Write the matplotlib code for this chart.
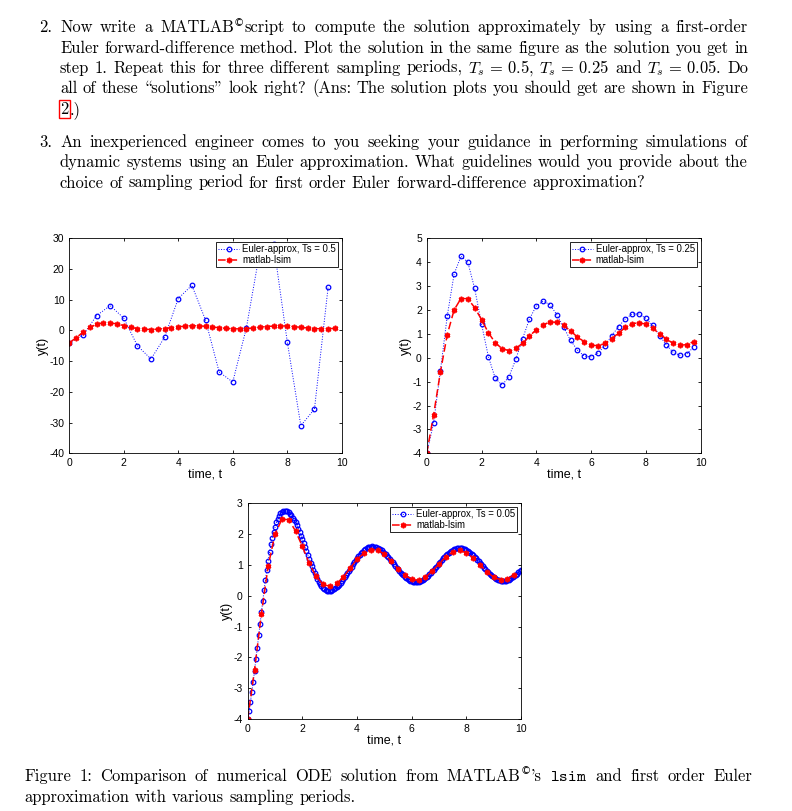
import numpy as np
import matplotlib.pyplot as plt

W, H = 792, 811

# lsim reference solution, sampled every 0.25 s
lsim_dt = 0.25
y_lsim = [-4.0, -2.4, -0.6, 0.97, 2.0, 2.48, 2.47, 2.1, 1.6, 1.05,
          0.63, 0.38, 0.3, 0.4, 0.6, 0.9, 1.18, 1.38, 1.5, 1.48,
          1.35, 1.12, 0.87, 0.67, 0.53, 0.5, 0.6, 0.8, 1.03, 1.27,
          1.42, 1.47, 1.4, 1.23, 1.0, 0.78, 0.6, 0.52, 0.55, 0.68]

# Euler forward-difference, Ts = 0.5
ts_a = 0.5
y_euler_a = [-4.0, -1.6, 4.8, 8.1, 4.0, -5.0, -9.3, -2.2, 10.4, 14.7,
             3.4, -13.5, -16.8, 0.8, 26.0, 28.0, -3.6, -31.0, -25.6, 14.0]

# Euler forward-difference, Ts = 0.25
ts_b = 0.25
y_euler_b = [-4.0, -2.75, -0.55, 1.75, 3.5, 4.25, 4.0, 2.9, 1.42, 0.05,
             -0.85, -1.15, -0.8, -0.07, 0.8, 1.62, 2.17, 2.37, 2.22, 1.8,
             1.27, 0.73, 0.32, 0.07, 0.04, 0.2, 0.5, 0.92, 1.3, 1.63,
             1.83, 1.83, 1.65, 1.35, 0.93, 0.53, 0.22, 0.1, 0.17, 0.45]

# Euler forward-difference, Ts = 0.05
ts_c = 0.05
y_euler_c = [-4.0, -3.75, -3.45, -3.13, -2.8, -2.44, -2.06, -1.68, -1.29, -0.91,
             -0.54, -0.17, 0.19, 0.52, 0.84, 1.13, 1.41, 1.67, 1.89, 2.07,
             2.23, 2.38, 2.5, 2.6, 2.68, 2.73, 2.755, 2.76, 2.753, 2.735,
             2.704, 2.661, 2.606, 2.539, 2.464, 2.378, 2.282, 2.181, 2.07, 1.955,
             1.833, 1.709, 1.583, 1.455, 1.327, 1.201, 1.077, 0.955, 0.84, 0.729,
             0.628, 0.532, 0.446, 0.371, 0.304, 0.249, 0.206, 0.176, 0.158, 0.15,
             0.154, 0.164, 0.181, 0.205, 0.236, 0.273, 0.315, 0.362, 0.415, 0.472,
             0.534, 0.597, 0.665, 0.734, 0.804, 0.875, 0.946, 1.016, 1.085, 1.153,
             1.216, 1.278, 1.335, 1.388, 1.435, 1.477, 1.514, 1.545, 1.569, 1.586,
             1.596, 1.6, 1.597, 1.589, 1.575, 1.556, 1.532, 1.503, 1.469, 1.432,
             1.39, 1.345, 1.296, 1.245, 1.192, 1.137, 1.081, 1.025, 0.969, 0.913,
             0.858, 0.805, 0.754, 0.705, 0.66, 0.618, 0.581, 0.547, 0.518, 0.494,
             0.475, 0.461, 0.453, 0.45, 0.453, 0.46, 0.474, 0.492, 0.515, 0.543,
             0.575, 0.611, 0.651, 0.694, 0.741, 0.789, 0.84, 0.893, 0.946, 1.0,
             1.054, 1.107, 1.16, 1.211, 1.259, 1.306, 1.349, 1.389, 1.425, 1.457,
             1.485, 1.508, 1.526, 1.54, 1.547, 1.55, 1.547, 1.54, 1.527, 1.509,
             1.487, 1.46, 1.429, 1.393, 1.354, 1.312, 1.267, 1.22, 1.17, 1.119,
             1.067, 1.015, 0.963, 0.911, 0.86, 0.81, 0.763, 0.717, 0.676, 0.637,
             0.602, 0.572, 0.546, 0.521, 0.503, 0.49, 0.483, 0.48, 0.483, 0.49,
             0.502, 0.52, 0.541, 0.568, 0.598, 0.632, 0.67, 0.711, 0.755, 0.801,
             0.849]

yticks_a = [-40, -30, -20, -10, 0, 10, 20, 30]
yticks_b = [-4, -3, -2, -1, 0, 1, 2, 3, 4, 5]
yticks_c = [-4, -3, -2, -1, 0, 1, 2, 3]
xticks = [0, 2, 4, 6, 8, 10]

item2_lines = [
    "Now write a MATLAB©script to compute the solution approximately by using a first-order",
    "Euler forward-difference method. Plot the solution in the same figure as the solution you get in",
    "step 1. Repeat this for three different sampling periods, $T_s\\,{=}\\,0.5$, $T_s\\,{=}\\,0.25$ "
    "and $T_s\\,{=}\\,0.05$. Do",
    "all of these \\solutions\" look right? (Ans: The solution plots you should get are shown in Figure",
]
item3_lines = [
    "An inexperienced engineer comes to you seeking your guidance in performing simulations of",
    "dynamic systems using an Euler approximation. What guidelines would you provide about the",
    "choice of sampling period for first order Euler forward-difference approximation?",
]
caption_lines = [
    "Figure 1:  Comparison of numerical ODE solution from MATLAB©'s $\\mathtt{lsim}$ and first order Euler",
    "approximation with various sampling periods.",
]

plt.rcParams['font.family'] = ['Liberation Sans', 'DejaVu Sans']
plt.rcParams['axes.unicode_minus'] = False
plt.rcParams['mathtext.fontset'] = 'cm'
body_font = ['cmr10', 'DejaVu Serif']
body_fs = 11.9

fig = plt.figure(figsize=(W / 100, H / 100), dpi=100)
renderer = fig.canvas.get_renderer()


def px_axes(left, top, right, bottom):
    return fig.add_axes([left / W, 1 - bottom / H, (right - left) / W, (bottom - top) / H])


def make_word(word, y):
    # a word may hold a superscript copyright sign
    parts = []
    for k, seg in enumerate(word.split('©')):
        if k > 0:
            parts.append(fig.text(0, 1 - (y - 6.5) / H, '©', fontsize=7.5,
                                  family='DejaVu Sans', va='baseline'))
        if seg:
            parts.append(fig.text(0, 1 - y / H, seg, fontsize=body_fs,
                                  family=body_font, va='baseline'))
    return parts


def put_line(text, x0, y, x1=None, gap=5.5):
    words = [make_word(w, y) for w in text.split()]
    widths = [[p.get_window_extent(renderer).width for p in wd] for wd in words]
    total = sum(sum(w) for w in widths)
    if x1 is not None and len(words) > 1:
        gap = (x1 - x0 - total) / (len(words) - 1)
    x = x0
    for wd, ws in zip(words, widths):
        for p, pw in zip(wd, ws):
            p.set_x(x / W)
            x += pw
        x += gap


def panel(ax, ts, y_e, yticks):
    t_e = np.arange(len(y_e)) * ts
    t_l = np.arange(len(y_lsim)) * lsim_dt
    ax.plot(t_e, y_e, linestyle=':', color=(0, 0, 1), lw=0.7, marker='o', ms=3.3,
            mfc='none', mew=0.9, label=f'Euler-approx, Ts = {ts:g}')
    ax.plot(t_l, y_lsim, linestyle='--', color='red', lw=1.1, marker=(6, 2, 0), ms=4.0,
            mew=1.2, label='matlab-lsim', dashes=(5, 2.5))
    ax.set_xlim(0, 10)
    ax.set_ylim(yticks[0], yticks[-1])
    ax.set_xticks(xticks)
    ax.set_yticks(yticks)
    ax.tick_params(direction='in', top=True, right=True, length=2.5, width=0.6,
                   labelsize=7.5, pad=3.5, colors='black')
    for s in ax.spines.values():
        s.set_linewidth(0.6)
    ax.set_xlabel('time, t', fontsize=9, labelpad=0.5)
    ax.set_ylabel('y(t)', fontsize=9, labelpad=0.5)
    leg = ax.legend(loc='upper right', fontsize=6.9, handlelength=2.2, handletextpad=0.3,
                    borderpad=0.2, labelspacing=0.1, borderaxespad=0.4, fancybox=False,
                    framealpha=1, edgecolor='black')
    leg.get_frame().set_linewidth(0.6)


panel(px_axes(69.3, 238.3, 341.7, 453.3), ts_a, y_euler_a, yticks_a)
panel(px_axes(426.7, 238.3, 700.7, 453.3), ts_b, y_euler_b, yticks_b)
panel(px_axes(247.7, 503.3, 521, 719), ts_c, y_euler_c, yticks_c)

# text of the page
left_num, left_body, right_edge = 39, 60, 748
fig.text(left_num / W, 1 - 32.3 / H, "2.", fontsize=body_fs, family=body_font, va='baseline')
for i, line in enumerate(item2_lines):
    put_line(line, left_body, 32.3 + i * 20.3, right_edge)
fig.text(left_body / W, 1 - 114 / H, "2", fontsize=body_fs, family=body_font, va='baseline',
         bbox=dict(boxstyle='square,pad=0.08', fc='none', ec='red', lw=1.0))
fig.text(70 / W, 1 - 114 / H, ".)", fontsize=body_fs, family=body_font, va='baseline')

fig.text(left_num / W, 1 - 146.7 / H, "3.", fontsize=body_fs, family=body_font, va='baseline')
put_line(item3_lines[0], left_body, 146.7, right_edge)
put_line(item3_lines[1], left_body, 167.2, right_edge)
put_line(item3_lines[2], left_body, 187.5)

put_line(caption_lines[0], 24, 781, right_edge + 4)
put_line(caption_lines[1], 24, 802)

fig.savefig('out.png', dpi=100)
